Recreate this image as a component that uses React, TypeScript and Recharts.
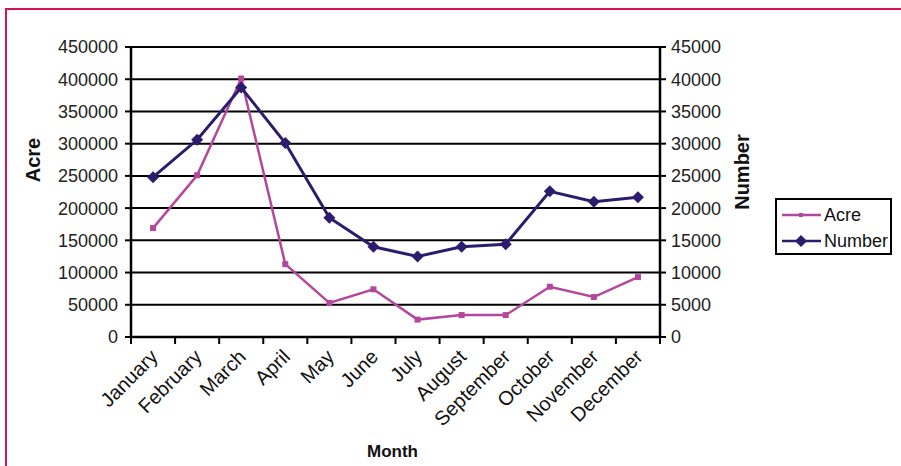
import { LineChart, Line, XAxis, YAxis, CartesianGrid, Legend, Label } from 'recharts'

const months = ['January', 'February', 'March', 'April', 'May', 'June', 'July', 'August', 'September', 'October', 'November', 'December']
const acre = [169000, 251000, 401000, 113000, 53000, 74000, 27000, 34000, 34000, 78000, 62000, 93000]
const number = [24800, 30600, 38700, 30100, 18500, 14000, 12500, 14000, 14400, 22600, 21000, 21700]
const acreTicks = [0, 50000, 100000, 150000, 200000, 250000, 300000, 350000, 400000, 450000]
const numberTicks = [0, 5000, 10000, 15000, 20000, 25000, 30000, 35000, 40000, 45000]

const ACRE_COLOR = '#b2479c'
const NUMBER_COLOR = '#2c1c6c'
const FONT = '"Liberation Sans", Arial, sans-serif'

const W = 901
const H = 466
const MARGIN = { top: 47, right: 181, bottom: 29, left: 51 }
const LEFT_W = 80
const RIGHT_W = 60
const BAND = (W - MARGIN.left - MARGIN.right - LEFT_W - RIGHT_W) / months.length

const data = months.map((m, i) => ({ month: m, acre: acre[i], number: number[i] }))

function SquareDot(props: any) {
    const { cx, cy } = props
    if (cx == null || cy == null) return null
    return <rect x={cx - 3} y={cy - 3} width={6} height={6} fill={ACRE_COLOR} />
}

function DiamondDot(props: any) {
    const { cx, cy } = props
    if (cx == null || cy == null) return null
    return <polygon points={`${cx},${cy - 6} ${cx + 6},${cy} ${cx},${cy + 6} ${cx - 6},${cy}`} fill={NUMBER_COLOR} />
}

function MonthTick(props: any) {
    const { x, y, payload, index } = props
    const tx = x + 6
    const ty = y + 21
    return (
        <g>
            <line x1={x - BAND / 2} y1={y} x2={x - BAND / 2} y2={y + 7} stroke="#000" strokeWidth={2} />
            {index === months.length - 1 && (
                <line x1={x + BAND / 2} y1={y} x2={x + BAND / 2} y2={y + 7} stroke="#000" strokeWidth={2} />
            )}
            <text x={tx} y={ty} transform={`rotate(-45 ${tx} ${ty})`} textAnchor="end" fill="#111" fontSize={20} fontFamily={FONT}>
                {payload.value}
            </text>
        </g>
    )
}

function LegendBox() {
    const rows = [
        { name: 'Acre', color: ACRE_COLOR, dot: 'square' },
        { name: 'Number', color: NUMBER_COLOR, dot: 'diamond' },
    ]
    return (
        <div style={{ border: '2px solid #000', width: 117, height: 57, boxSizing: 'border-box', fontFamily: FONT, fontSize: 18, color: '#111', paddingTop: 2 }}>
            {rows.map((r) => (
                <div key={r.name} style={{ display: 'flex', alignItems: 'center', height: 26 }}>
                    <svg width={46} height={14} style={{ flex: 'none' }}>
                        <line x1={5} y1={7} x2={44} y2={7} stroke={r.color} strokeWidth={2.5} />
                        {r.dot === 'square' ? (
                            <rect x={22} y={5} width={4} height={4} fill={r.color} />
                        ) : (
                            <polygon points="24,1 30,7 24,13 18,7" fill={r.color} />
                        )}
                    </svg>
                    <span style={{ marginLeft: 1 }}>{r.name}</span>
                </div>
            ))}
        </div>
    )
}

export default function App() {
    return (
        <div style={{ position: 'absolute', left: 0, top: 0, width: W, height: H, background: '#fff', overflow: 'hidden' }}>
            <div style={{ position: 'absolute', left: 5, top: 8, width: W, height: H, borderTop: '2px solid #d2145a', borderLeft: '2px solid #d2145a' }} />
            <LineChart width={W} height={H} data={data} margin={MARGIN}>
                <CartesianGrid yAxisId="left" vertical={false} stroke="#000" strokeWidth={2} />
                <XAxis
                    dataKey="month"
                    interval={0}
                    height={100}
                    padding={{ left: BAND / 2, right: BAND / 2 }}
                    tickSize={0}
                    tickMargin={0}
                    tickLine={false}
                    axisLine={{ stroke: '#000', strokeWidth: 2.5 }}
                    tick={<MonthTick />}
                >
                    <Label
                        content={({ viewBox }: any) => (
                            <text x={viewBox.x + viewBox.width / 2 - 3} y={viewBox.y + 120} textAnchor="middle" fontWeight="bold" fontSize={17} fontFamily={FONT} fill="#111">
                                Month
                            </text>
                        )}
                    />
                </XAxis>
                <YAxis
                    yAxisId="left"
                    width={LEFT_W}
                    domain={[0, 450000]}
                    ticks={acreTicks}
                    interval={0}
                    tickMargin={7}
                    axisLine={{ stroke: '#000', strokeWidth: 2.5 }}
                    tickLine={{ stroke: '#000', strokeWidth: 2 }}
                    tick={{ fill: '#222', fontSize: 18, fontFamily: FONT }}
                >
                    <Label
                        content={({ viewBox }: any) => (
                            <text x={viewBox.x - 11} y={viewBox.y + 113} transform={`rotate(-90 ${viewBox.x - 11} ${viewBox.y + 113})`} textAnchor="middle" fontWeight="bold" fontSize={20} fontFamily={FONT} fill="#111">
                                Acre
                            </text>
                        )}
                    />
                </YAxis>
                <YAxis
                    yAxisId="right"
                    orientation="right"
                    width={RIGHT_W}
                    domain={[0, 45000]}
                    ticks={numberTicks}
                    interval={0}
                    tickMargin={5}
                    axisLine={{ stroke: '#000', strokeWidth: 2.5 }}
                    tickLine={{ stroke: '#000', strokeWidth: 2 }}
                    tick={{ fill: '#222', fontSize: 18, fontFamily: FONT }}
                >
                    <Label
                        content={({ viewBox }: any) => (
                            <text x={viewBox.x + viewBox.width + 29} y={viewBox.y + 125} transform={`rotate(-90 ${viewBox.x + viewBox.width + 29} ${viewBox.y + 125})`} textAnchor="middle" fontWeight="bold" fontSize={20} fontFamily={FONT} fill="#111">
                                Number
                            </text>
                        )}
                    />
                </YAxis>
                <Legend
                    layout="vertical"
                    align="center"
                    verticalAlign="middle"
                    content={() => <LegendBox />}
                    wrapperStyle={{ left: 775, top: 198, width: 117, height: 57 }}
                />
                <Line yAxisId="left" dataKey="acre" name="Acre" stroke={ACRE_COLOR} strokeWidth={2.5} dot={<SquareDot />} isAnimationActive={false} />
                <Line yAxisId="right" dataKey="number" name="Number" stroke={NUMBER_COLOR} strokeWidth={3} dot={<DiamondDot />} isAnimationActive={false} />
            </LineChart>
        </div>
    )
}
